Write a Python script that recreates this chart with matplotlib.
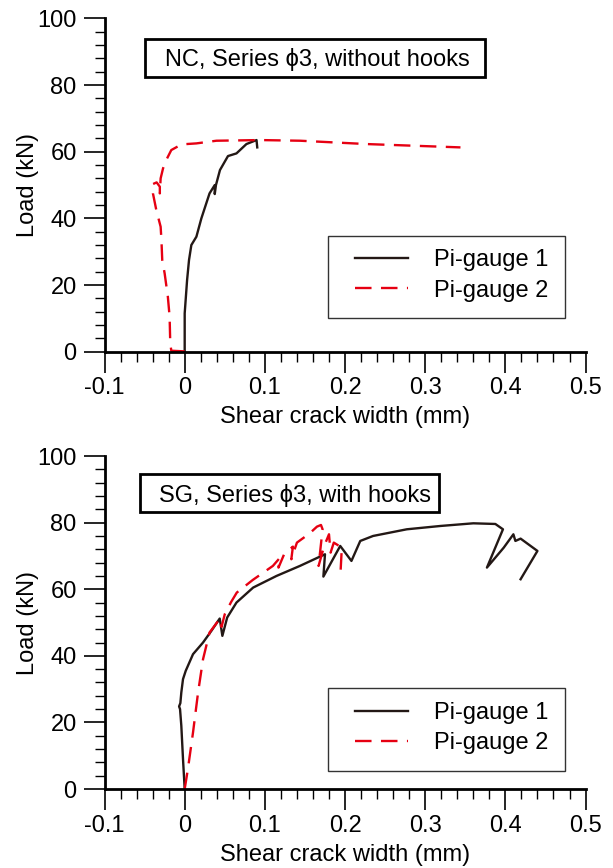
import matplotlib
matplotlib.use("Agg")
import matplotlib.pyplot as plt
from matplotlib.patches import Rectangle
from matplotlib.ticker import MultipleLocator
import numpy as np

plt.rcParams['font.family'] = ['Liberation Sans', 'DejaVu Sans']

# ---------------- data ----------------
# Top panel: NC, Series phi3, without hooks
nc_g1_x = [0.0, 0.0, 0.003, 0.0054, 0.0083, 0.0146, 0.0208, 0.031, 0.0375, 0.0375,
           0.039, 0.044, 0.054, 0.0646, 0.077, 0.0896, 0.0905]
nc_g1_y = [0.0, 11.5, 21.5, 27.5, 32.0, 34.5, 40.0, 47.5, 50.0, 47.3,
           50.0, 54.5, 58.7, 59.5, 62.3, 63.5, 61.3]

nc_g2_x = [0.0, -0.0167, -0.018, -0.0188, -0.021, -0.025, -0.028, -0.029, -0.030,
           -0.0354, -0.0396, -0.0396, -0.035, -0.031, -0.031, -0.030, -0.027,
           -0.023, -0.0167, -0.004, 0.0146, 0.0396, 0.094, 0.144, 0.227, 0.344]
nc_g2_y = [0.1, 0.3, 2.5, 10.5, 16.5, 23.5, 27.5, 33.5, 37.5,
           42.5, 47.5, 50.3, 50.8, 49.5, 47.5, 52.0, 55.0,
           57.5, 60.5, 62.2, 62.5, 63.3, 63.5, 63.3, 62.3, 61.3]

# Bottom panel: SG, Series phi3, with hooks
sg_g1_x = [0.0, -0.0021, -0.0042, -0.0058, -0.007, -0.0054, -0.0042, -0.0021, 0.0013,
           0.0104, 0.0229, 0.0333, 0.0437, 0.047, 0.053, 0.0646, 0.0854, 0.1146,
           0.1437, 0.175, 0.173, 0.194, 0.208, 0.219, 0.235, 0.277, 0.319, 0.360,
           0.3875, 0.397, 0.377, 0.398, 0.410, 0.4125, 0.419, 0.440, 0.419]
sg_g1_y = [0.0, 9.0, 19.0, 24.0, 24.8, 25.8, 29.0, 33.0, 35.5,
           40.5, 44.0, 47.5, 51.2, 46.0, 51.5, 56.0, 60.5, 64.0,
           67.0, 70.5, 63.8, 73.0, 68.5, 74.5, 76.0, 78.0, 79.0, 79.8,
           79.6, 78.0, 66.5, 72.5, 76.5, 74.5, 75.2, 71.5, 63.0]

sg_g2_x = [0.0, 0.004, 0.0104, 0.0167, 0.0229, 0.031, 0.044, 0.046, 0.050, 0.058,
           0.065, 0.085, 0.110, 0.119, 0.117, 0.124, 0.135, 0.133, 0.140, 0.156,
           0.165, 0.170, 0.172, 0.167, 0.174, 0.180, 0.182, 0.186, 0.196, 0.194]
sg_g2_y = [0.0, 6.0, 17.0, 29.0, 39.0, 47.0, 51.2, 48.7, 52.5, 56.2,
           59.0, 62.8, 67.0, 69.5, 66.5, 70.5, 72.8, 69.0, 74.0, 76.8,
           78.8, 79.3, 78.0, 67.0, 73.0, 76.5, 71.0, 74.0, 72.5, 63.3]

panel_titles = ["NC, Series \u03d53, without hooks", "SG, Series \u03d53, with hooks"]
legend_labels = ["Pi-gauge 1", "Pi-gauge 2"]
x_tick_labels = ['-0.1', '0', '0.1', '0.2', '0.3', '0.4', '0.5']
x_label = "Shear crack width (mm)"
y_label = "Load (kN)"

# ---------------- style ----------------
BLACK = '#231815'
RED = '#e60012'
FS = 17

fig = plt.figure(figsize=(6.13, 8.68), dpi=100)
ax_top = fig.add_axes([0.1705, 0.5948, 0.7847, 0.3840])
ax_bot = fig.add_axes([0.1705, 0.0910, 0.7847, 0.3836])

panels = [
    (ax_top, nc_g1_x, nc_g1_y, nc_g2_x, nc_g2_y, panel_titles[0],
     (0.0838, 0.824, 0.7067, 0.1137), (0.4418, 0.858),
     (0.4647, 0.1011, 0.4927, 0.246), 0.2286),
    (ax_bot, sg_g1_x, sg_g1_y, sg_g2_x, sg_g2_y, panel_titles[1],
     (0.0738, 0.8318, 0.6216, 0.1141), (0.397, 0.863),
     (0.4647, 0.054, 0.4927, 0.249), 0.183),
]

for (ax, x1, y1, x2, y2, title, tbox, tpos, lbox, lyc) in panels:
    l1, = ax.plot(x1, y1, color=BLACK, lw=1.7, solid_joinstyle='round',
                  label=legend_labels[0], clip_on=False)
    l2, = ax.plot(x2, y2, color=RED, lw=1.7, dashes=(7, 4),
                  label=legend_labels[1], clip_on=False)
    ax.set_xlim(-0.1, 0.5)
    ax.set_ylim(0, 100)
    for s in ['top', 'right']:
        ax.spines[s].set_visible(False)
    for s in ['left', 'bottom']:
        ax.spines[s].set_linewidth(2.0)
        ax.spines[s].set_color('black')
    ax.xaxis.set_major_locator(MultipleLocator(0.1))
    ax.xaxis.set_minor_locator(MultipleLocator(0.02))
    ax.yaxis.set_major_locator(MultipleLocator(20))
    ax.yaxis.set_minor_locator(MultipleLocator(4))
    ax.tick_params(which='major', direction='out', length=15, width=1.2,
                   labelsize=FS)
    ax.tick_params(axis='x', which='major', pad=3.5)
    ax.tick_params(axis='y', which='major', pad=5)
    ax.tick_params(which='minor', direction='out', length=7, width=1.0)
    ax.set_xticks(np.round(np.arange(-0.1, 0.51, 0.1), 1))
    ax.set_xticklabels(x_tick_labels)
    ax.set_xlabel(x_label, fontsize=FS, labelpad=5)
    ax.set_ylabel(y_label, fontsize=FS, labelpad=-1.5)

    ax.add_patch(Rectangle((tbox[0], tbox[1]), tbox[2], tbox[3],
                           transform=ax.transAxes, fill=False,
                           edgecolor='black', lw=2.0, clip_on=False))
    ax.text(tpos[0], tpos[1], title, transform=ax.transAxes,
            ha='center', va='baseline', fontsize=FS)

    ax.add_patch(Rectangle((lbox[0], lbox[1]), lbox[2], lbox[3],
                           transform=ax.transAxes, fill=False,
                           edgecolor='#333333', lw=1.0, clip_on=False))
    ax.legend(handles=[l1, l2], loc='center left',
              bbox_to_anchor=(0.5208, lyc), frameon=False, fontsize=FS,
              borderpad=0, borderaxespad=0, handlelength=2.25,
              handletextpad=1.1, labelspacing=0.35)

fig.savefig('out.png', dpi=100)
